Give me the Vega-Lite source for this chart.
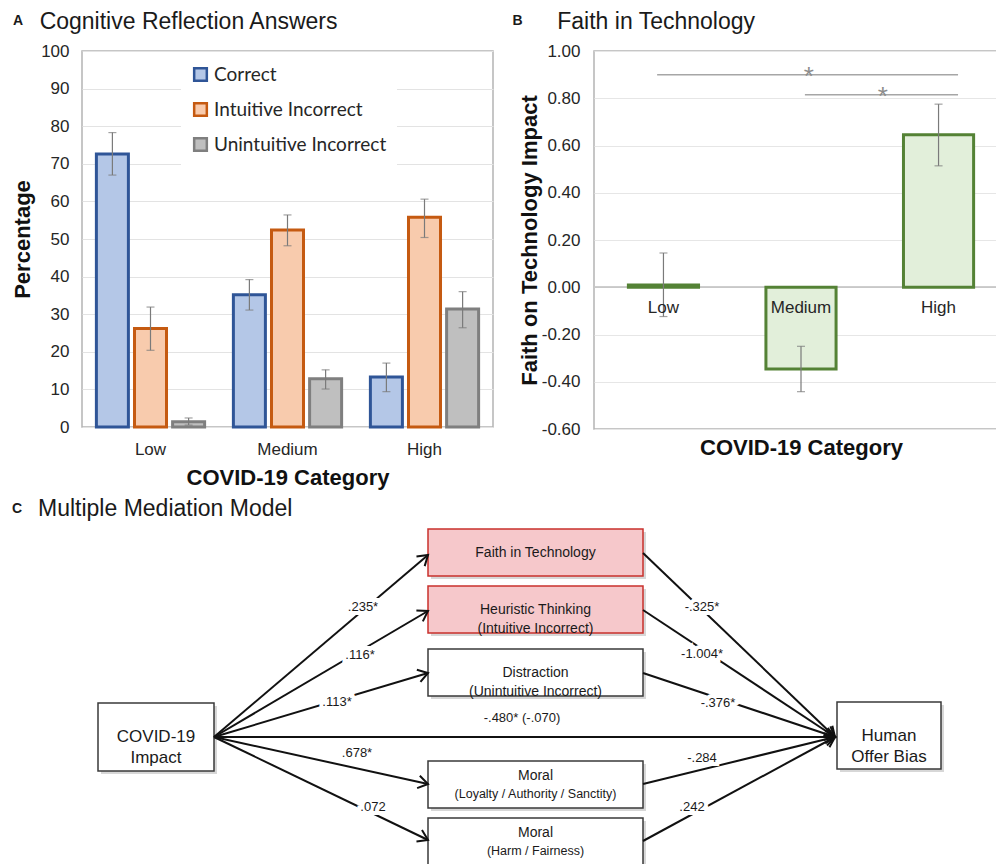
{
  "$schema": "https://vega.github.io/schema/vega-lite/v6.json",
  "padding": {"left": 10, "top": 10, "right": 0, "bottom": 0},
  "background": "white",
  "spacing": 9,
  "resolve": {"scale": {"fill": "independent", "stroke": "independent"}, "legend": {"fill": "independent", "stroke": "independent"}},
  "config": {
    "font": "Liberation Sans",
    "view": {"stroke": null},
    "title": {"font": "Liberation Sans", "color": "#1a1a1a"}
  },
  "datasets": {
    "answers": [
      {"covid": "Low", "answer": "Correct", "pct": 72.6, "lo": 67.0, "hi": 78.3},
      {"covid": "Low", "answer": "Intuitive Incorrect", "pct": 26.2, "lo": 20.4, "hi": 31.9},
      {"covid": "Low", "answer": "Unintuitive Incorrect", "pct": 1.4, "lo": 0.5, "hi": 2.4},
      {"covid": "Medium", "answer": "Correct", "pct": 35.2, "lo": 31.1, "hi": 39.2},
      {"covid": "Medium", "answer": "Intuitive Incorrect", "pct": 52.4, "lo": 48.2, "hi": 56.4},
      {"covid": "Medium", "answer": "Unintuitive Incorrect", "pct": 12.8, "lo": 10.1, "hi": 15.2},
      {"covid": "High", "answer": "Correct", "pct": 13.3, "lo": 9.4, "hi": 17.0},
      {"covid": "High", "answer": "Intuitive Incorrect", "pct": 55.8, "lo": 50.4, "hi": 60.6},
      {"covid": "High", "answer": "Unintuitive Incorrect", "pct": 31.4, "lo": 26.4, "hi": 36.0}
    ],
    "faith": [
      {"covid": "Low", "impact": 0.01, "lo": -0.124, "hi": 0.145},
      {"covid": "Medium", "impact": -0.346, "lo": -0.442, "hi": -0.25},
      {"covid": "High", "impact": 0.645, "lo": 0.514, "hi": 0.775}
    ],
    "signif": [
      {"pair": "Low vs High", "from": 0.47, "to": 2.71, "level": 0.9, "star": 1.6},
      {"pair": "Medium vs High", "from": 1.57, "to": 2.71, "level": 0.815, "star": 2.15}
    ],
    "nodes": [
      {"id": "covid", "kind": "main", "label": "COVID-19\nImpact", "sub": "", "x1": 88, "x2": 204, "y1": 178, "y2": 246},
      {"id": "faith", "kind": "pink", "label": "Faith in Technology", "sub": "", "x1": 418, "x2": 633, "y1": 4, "y2": 51},
      {"id": "heur", "kind": "pink", "label": "Heuristic Thinking\n(Intuitive Incorrect)", "sub": "", "x1": 418, "x2": 633, "y1": 61, "y2": 108},
      {"id": "dist", "kind": "plain", "label": "Distraction\n(Unintuitive Incorrect)", "sub": "", "x1": 418, "x2": 633, "y1": 124, "y2": 171},
      {"id": "loyal", "kind": "moral", "label": "Moral", "sub": "(Loyalty / Authority / Sanctity)", "x1": 418, "x2": 633, "y1": 236, "y2": 283},
      {"id": "harm", "kind": "moral", "label": "Moral", "sub": "(Harm / Fairness)", "x1": 418, "x2": 633, "y1": 293, "y2": 345},
      {"id": "bias", "kind": "main", "label": "Human\nOffer Bias", "sub": "", "x1": 827, "x2": 931, "y1": 177, "y2": 244}
    ],
    "edges": [
      {"from": "covid", "to": "faith", "coef": ".235*", "x1": 204, "y1": 212, "x2": 418, "y2": 30, "lx": 353, "ly": 82},
      {"from": "covid", "to": "heur", "coef": ".116*", "x1": 204, "y1": 212, "x2": 418, "y2": 86, "lx": 350, "ly": 130},
      {"from": "covid", "to": "dist", "coef": ".113*", "x1": 204, "y1": 212, "x2": 418, "y2": 148, "lx": 327, "ly": 177},
      {"from": "covid", "to": "bias", "coef": "-.480* (-.070)", "x1": 204, "y1": 212, "x2": 825, "y2": 212, "lx": 512, "ly": 193},
      {"from": "covid", "to": "loyal", "coef": ".678*", "x1": 204, "y1": 212, "x2": 418, "y2": 259, "lx": 347, "ly": 228},
      {"from": "covid", "to": "harm", "coef": ".072", "x1": 204, "y1": 212, "x2": 418, "y2": 315, "lx": 363, "ly": 282},
      {"from": "faith", "to": "bias", "coef": "-.325*", "x1": 633, "y1": 28, "x2": 825, "y2": 212, "lx": 692, "ly": 82},
      {"from": "heur", "to": "bias", "coef": "-1.004*", "x1": 633, "y1": 85, "x2": 825, "y2": 212, "lx": 692, "ly": 129},
      {"from": "dist", "to": "bias", "coef": "-.376*", "x1": 633, "y1": 148, "x2": 825, "y2": 212, "lx": 708, "ly": 178},
      {"from": "loyal", "to": "bias", "coef": "-.284", "x1": 633, "y1": 259, "x2": 825, "y2": 212, "lx": 692, "ly": 233},
      {"from": "harm", "to": "bias", "coef": ".242", "x1": 633, "y1": 316, "x2": 825, "y2": 212, "lx": 682, "ly": 282}
    ]
  },
  "vconcat": [
    {
      "spacing": 18,
      "hconcat": [
        {
          "title": {"text": "A", "anchor": "start", "frame": "bounds", "fontSize": 14, "fontWeight": "bold", "dx": 2, "offset": -18},
          "vconcat": [
            {
              "width": 411,
              "height": 376,
              "title": {"text": "Cognitive Reflection Answers", "anchor": "start", "frame": "bounds", "dx": 28, "fontSize": 23, "fontWeight": "normal", "offset": 8},
              "view": {"stroke": "#B4B4B4", "strokeWidth": 1.5},
              "data": {"name": "answers"},
              "encoding": {
                "x": {
                  "field": "covid", "type": "nominal", "sort": ["Low", "Medium", "High"],
                  "scale": {"paddingInner": 0.21, "paddingOuter": 0.105},
                  "axis": {"title": "COVID-19 Category", "labelAngle": 0, "labelFontSize": 17, "labelColor": "#262626", "labelPadding": 14, "ticks": false, "domain": false, "titleFontSize": 22, "titleFontWeight": "bold", "titleColor": "#111111", "titlePadding": 10}
                },
                "xOffset": {
                  "field": "answer", "type": "nominal",
                  "sort": ["Correct", "Intuitive Incorrect", "Unintuitive Incorrect"],
                  "scale": {"paddingInner": 0.16, "paddingOuter": 0}
                }
              },
              "layer": [
                {
                  "mark": {"type": "bar", "strokeWidth": 3},
                  "encoding": {
                    "y": {
                      "field": "pct", "type": "quantitative", "title": "Percentage",
                      "scale": {"domain": [0, 100], "nice": false},
                      "axis": {"title": "Percentage", "values": [0, 10, 20, 30, 40, 50, 60, 70, 80, 90, 100], "tickCount": 11, "labelOverlap": false, "grid": true, "gridColor": "#E3E3E3", "domain": false, "ticks": false, "labelFontSize": 17, "labelColor": "#262626", "labelPadding": 13, "titleFontSize": 22, "titleFontWeight": "bold", "titleColor": "#111111", "titlePadding": 6}
                    },
                    "fill": {
                      "field": "answer", "type": "nominal",
                      "scale": {"domain": ["Correct", "Intuitive Incorrect", "Unintuitive Incorrect"], "range": ["#B4C7E7", "#F8CBAD", "#BFBFBF"]},
                      "legend": {"orient": "none", "legendX": 99, "legendY": 4, "title": null, "direction": "vertical", "labelFont": "Lato", "labelFontSize": 19, "labelColor": "#262626", "labelLimit": 300, "symbolType": "square", "symbolSize": 160, "symbolStrokeWidth": 2.5, "rowPadding": 12, "labelOffset": 4, "fillColor": "white", "padding": 10}
                    },
                    "stroke": {
                      "field": "answer", "type": "nominal",
                      "scale": {"domain": ["Correct", "Intuitive Incorrect", "Unintuitive Incorrect"], "range": ["#2F5597", "#C55A11", "#7F7F7F"]},
                      "legend": {"orient": "none", "legendX": 99, "legendY": 4, "title": null, "direction": "vertical", "labelFont": "Lato", "labelFontSize": 19, "labelColor": "#262626", "labelLimit": 300, "symbolType": "square", "symbolSize": 160, "symbolStrokeWidth": 2.5, "rowPadding": 12, "labelOffset": 4, "fillColor": "white", "padding": 10}
                    }
                  }
                },
                {
                  "mark": {"type": "rule", "color": "#7A7A7A", "strokeWidth": 1.2},
                  "encoding": {
                    "y": {"field": "lo", "type": "quantitative", "title": "Percentage", "axis": {"title": "Percentage", "values": [0, 10, 20, 30, 40, 50, 60, 70, 80, 90, 100], "tickCount": 11, "labelOverlap": false, "grid": true, "gridColor": "#E3E3E3", "domain": false, "ticks": false, "labelFontSize": 17, "labelColor": "#262626", "labelPadding": 13, "titleFontSize": 22, "titleFontWeight": "bold", "titleColor": "#111111", "titlePadding": 6}},
                    "y2": {"field": "hi"}
                  }
                },
                {
                  "mark": {"type": "tick", "color": "#7A7A7A", "thickness": 1.2, "size": 8},
                  "encoding": {"y": {"field": "lo", "type": "quantitative", "title": "Percentage", "axis": {"title": "Percentage", "values": [0, 10, 20, 30, 40, 50, 60, 70, 80, 90, 100], "tickCount": 11, "labelOverlap": false, "grid": true, "gridColor": "#E3E3E3", "domain": false, "ticks": false, "labelFontSize": 17, "labelColor": "#262626", "labelPadding": 13, "titleFontSize": 22, "titleFontWeight": "bold", "titleColor": "#111111", "titlePadding": 6}}}
                },
                {
                  "mark": {"type": "tick", "color": "#7A7A7A", "thickness": 1.2, "size": 8},
                  "encoding": {"y": {"field": "hi", "type": "quantitative", "title": "Percentage", "axis": {"title": "Percentage", "values": [0, 10, 20, 30, 40, 50, 60, 70, 80, 90, 100], "tickCount": 11, "labelOverlap": false, "grid": true, "gridColor": "#E3E3E3", "domain": false, "ticks": false, "labelFontSize": 17, "labelColor": "#262626", "labelPadding": 13, "titleFontSize": 22, "titleFontWeight": "bold", "titleColor": "#111111", "titlePadding": 6}}}
                }
              ]
            }
          ]
        },
        {
          "title": {"text": "B", "anchor": "start", "frame": "bounds", "fontSize": 14, "fontWeight": "bold", "dx": -5, "offset": -18},
          "vconcat": [
            {
              "width": 403,
              "height": 378,
              "title": {"text": "Faith in Technology", "anchor": "start", "frame": "bounds", "dx": 39, "fontSize": 23, "fontWeight": "normal", "offset": 8},
              "view": {"stroke": "#B4B4B4", "strokeWidth": 1.5},
              "layer": [
                {
                  "data": {"name": "faith"},
                  "encoding": {
                    "x": {
                      "field": "covid", "type": "nominal", "sort": ["Low", "Medium", "High"],
                      "scale": {"paddingInner": 0.49, "paddingOuter": 0.25, "range": [0, 414]},
                      "axis": {"title": "COVID-19 Category", "labels": false, "ticks": false, "domain": false, "titleFontSize": 22, "titleFontWeight": "bold", "titleColor": "#111111", "titlePadding": 8}
                    }
                  },
                  "layer": [
                    {
                      "mark": {"type": "rule", "color": "#C8C8C8", "strokeWidth": 1.5},
                      "encoding": {"x": null, "y": {"datum": 0, "type": "quantitative", "title": "Faith on Technology Impact"}}
                    },
                    {
                      "mark": {"type": "bar", "fill": "#E2EFDA", "stroke": "#548235", "strokeWidth": 3},
                      "encoding": {
                        "y": {
                          "field": "impact", "type": "quantitative", "title": "Faith on Technology Impact",
                          "scale": {"domain": [-0.6, 1.0], "nice": false},
                          "axis": {"title": "Faith on Technology Impact", "values": [-0.6, -0.4, -0.2, 0, 0.2, 0.4, 0.6, 0.8, 1.0], "tickCount": 9, "labelOverlap": false, "labelExpr": "replace(format(datum.value, '.2f'), '\u2212', '-')", "grid": true, "gridColor": "#E6E6E6", "domain": false, "ticks": false, "labelFontSize": 17, "labelColor": "#262626", "labelPadding": 14, "titleFontSize": 22, "titleFontWeight": "bold", "titleColor": "#111111", "titlePadding": 0}
                        }
                      }
                    },
                    {
                      "mark": {"type": "rule", "color": "#7A7A7A", "strokeWidth": 1.2},
                      "encoding": {"y": {"field": "lo", "type": "quantitative", "title": "Faith on Technology Impact"}, "y2": {"field": "hi"}}
                    },
                    {
                      "mark": {"type": "tick", "color": "#7A7A7A", "thickness": 1.2, "size": 8},
                      "encoding": {"y": {"field": "lo", "type": "quantitative", "title": "Faith on Technology Impact"}}
                    },
                    {
                      "mark": {"type": "tick", "color": "#7A7A7A", "thickness": 1.2, "size": 8},
                      "encoding": {"y": {"field": "hi", "type": "quantitative", "title": "Faith on Technology Impact"}}
                    },
                    {
                      "mark": {"type": "text", "fontSize": 17, "color": "#262626", "baseline": "middle", "dy": 21},
                      "encoding": {"y": {"datum": 0, "type": "quantitative", "title": "Faith on Technology Impact"}, "text": {"field": "covid"}}
                    }
                  ]
                },
                {
                  "data": {"name": "signif"},
                  "layer": [
                    {
                      "mark": {"type": "rule", "color": "#A6A6A6", "strokeWidth": 1.5},
                      "encoding": {
                        "x": {"field": "from", "type": "quantitative", "scale": {"domain": [0, 3], "nice": false}, "axis": null},
                        "x2": {"field": "to"},
                        "y": {"field": "level", "type": "quantitative", "title": "Faith on Technology Impact"}
                      }
                    },
                    {
                      "mark": {"type": "text", "text": "*", "fontSize": 26, "color": "#8C8C8C", "baseline": "middle", "dy": 2},
                      "encoding": {
                        "x": {"field": "star", "type": "quantitative", "scale": {"domain": [0, 3], "nice": false}, "axis": null},
                        "y": {"field": "level", "type": "quantitative", "title": "Faith on Technology Impact"}
                      }
                    }
                  ]
                }
              ],
              "resolve": {"scale": {"x": "independent"}, "axis": {"x": "independent"}}
            }
          ]
        }
      ]
    },
    {
      "title": {"text": "C", "anchor": "start", "frame": "bounds", "fontSize": 14, "fontWeight": "bold", "dx": -26, "offset": -18},
      "vconcat": [
        {
          "width": 914,
          "height": 339,
          "title": {"text": "Multiple Mediation Model", "anchor": "start", "frame": "group", "dx": -44, "fontSize": 23, "fontWeight": "normal", "offset": 4},
          "view": {"stroke": null},
          "layer": [
            {
              "data": {"name": "nodes"},
              "mark": {"type": "rect", "fill": "#9A9A9A", "opacity": 0.4, "xOffset": 3, "x2Offset": 3, "yOffset": 3, "y2Offset": 3},
              "encoding": {
                "x": {"field": "x1", "type": "quantitative", "scale": {"domain": [72, 986], "nice": false, "zero": false}, "axis": null},
                "x2": {"field": "x2"},
                "y": {"field": "y1", "type": "quantitative", "scale": {"domain": [0, 339], "nice": false, "zero": false, "reverse": true}, "axis": null},
                "y2": {"field": "y2"}
              }
            },
            {
              "data": {"name": "nodes"},
              "mark": {"type": "rect", "strokeWidth": 1.5},
              "encoding": {
                "x": {"field": "x1", "type": "quantitative", "axis": null},
                "x2": {"field": "x2"},
                "y": {"field": "y1", "type": "quantitative", "axis": null},
                "y2": {"field": "y2"},
                "fill": {"field": "kind", "type": "nominal", "scale": {"domain": ["main", "pink", "plain", "moral"], "range": ["#FFFFFF", "#F6C8CB", "#FFFFFF", "#FFFFFF"]}, "legend": null},
                "stroke": {"field": "kind", "type": "nominal", "scale": {"domain": ["main", "pink", "plain", "moral"], "range": ["#3A3A3A", "#C9302C", "#3A3A3A", "#3A3A3A"]}, "legend": null}
              }
            },
            {
              "data": {"name": "edges"},
              "mark": {"type": "rule", "color": "#111111", "strokeWidth": 2},
              "encoding": {
                "x": {"field": "x1", "type": "quantitative", "axis": null},
                "x2": {"field": "x2"},
                "y": {"field": "y1", "type": "quantitative", "axis": null},
                "y2": {"field": "y2"}
              }
            },
            {
              "data": {"name": "edges"},
              "transform": [{"calculate": "atan2(datum.y2 - datum.y1, datum.x2 - datum.x1) * 180 / PI", "as": "heading"}],
              "mark": {"type": "point", "filled": false, "stroke": "#111111", "strokeWidth": 2, "opacity": 1, "size": 380, "shape": "M-1,-0.65L0,0L-1,0.65", "strokeJoin": "miter"},
              "encoding": {
                "x": {"field": "x2", "type": "quantitative", "axis": null},
                "y": {"field": "y2", "type": "quantitative", "axis": null},
                "angle": {"field": "heading", "type": "quantitative", "scale": null}
              }
            },
            {
              "data": {"name": "edges"},
              "mark": {"type": "text", "fontSize": 13, "color": "white", "stroke": "white", "strokeWidth": 8, "baseline": "middle"},
              "encoding": {
                "x": {"field": "lx", "type": "quantitative", "axis": null},
                "y": {"field": "ly", "type": "quantitative", "axis": null},
                "text": {"field": "coef"}
              }
            },
            {
              "data": {"name": "edges"},
              "mark": {"type": "text", "fontSize": 13, "color": "#1a1a1a", "baseline": "middle"},
              "encoding": {
                "x": {"field": "lx", "type": "quantitative", "axis": null},
                "y": {"field": "ly", "type": "quantitative", "axis": null},
                "text": {"field": "coef"}
              }
            },
            {
              "data": {"name": "nodes"},
              "transform": [
                {"filter": "datum.kind == 'main'"},
                {"calculate": "(datum.x1 + datum.x2) / 2", "as": "cx"},
                {"calculate": "(datum.y1 + datum.y2) / 2", "as": "cy"}
              ],
              "mark": {"type": "text", "fontSize": 17, "lineHeight": 21, "lineBreak": "\n", "color": "#1a1a1a", "baseline": "middle"},
              "encoding": {
                "x": {"field": "cx", "type": "quantitative", "axis": null},
                "y": {"field": "cy", "type": "quantitative", "axis": null},
                "text": {"field": "label"}
              }
            },
            {
              "data": {"name": "nodes"},
              "transform": [
                {"filter": "datum.kind == 'pink' || datum.kind == 'plain'"},
                {"calculate": "(datum.x1 + datum.x2) / 2", "as": "cx"},
                {"calculate": "(datum.y1 + datum.y2) / 2", "as": "cy"}
              ],
              "mark": {"type": "text", "fontSize": 14, "lineHeight": 19, "lineBreak": "\n", "color": "#1a1a1a", "baseline": "middle"},
              "encoding": {
                "x": {"field": "cx", "type": "quantitative", "axis": null},
                "y": {"field": "cy", "type": "quantitative", "axis": null},
                "text": {"field": "label"}
              }
            },
            {
              "data": {"name": "nodes"},
              "transform": [
                {"filter": "datum.kind == 'moral'"},
                {"calculate": "(datum.x1 + datum.x2) / 2", "as": "cx"},
                {"calculate": "datum.y1 + 23.5", "as": "cy"}
              ],
              "layer": [
                {
                  "mark": {"type": "text", "fontSize": 14, "color": "#1a1a1a", "baseline": "middle", "dy": -9},
                  "encoding": {
                    "x": {"field": "cx", "type": "quantitative", "axis": null},
                    "y": {"field": "cy", "type": "quantitative", "axis": null},
                    "text": {"field": "label"}
                  }
                },
                {
                  "mark": {"type": "text", "fontSize": 12.5, "color": "#1a1a1a", "baseline": "middle", "dy": 9},
                  "encoding": {
                    "x": {"field": "cx", "type": "quantitative", "axis": null},
                    "y": {"field": "cy", "type": "quantitative", "axis": null},
                    "text": {"field": "sub"}
                  }
                }
              ]
            }
          ]
        }
      ]
    }
  ]
}
